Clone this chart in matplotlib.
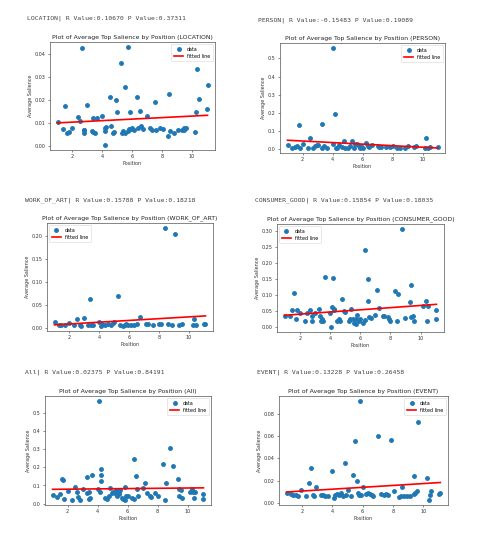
import numpy as np
import matplotlib
matplotlib.use("Agg")
import matplotlib.pyplot as plt

# Average top salience per position, one panel per entity type
categories = ["LOCATION", "PERSON", "WORK_OF_ART", "CONSUMER_GOOD", "All", "EVENT"]
r_values = ["0.10670", "-0.15483", "0.15788", "0.15854", "0.02375", "0.13228"]
p_values = ["0.37311", "0.19089", "0.18218", "0.18035", "0.84191", "0.26458"]

# fitted line (intercept, slope)
intercepts = [0.00967, 0.0513, 0.00588, 0.0336, 0.0782, 0.00906]
slopes = [0.00033, -0.0043, 0.00192, 0.0034, 0.0008, 0.00084]

location_pts = [
    (1.0, 0.0104), (1.35, 0.0072), (1.5, 0.0173), (1.65, 0.0058), (1.75, 0.0062),
    (2.0, 0.0077), (2.35, 0.0126), (2.5, 0.0107), (2.65, 0.0429), (2.75, 0.0069),
    (2.75, 0.0058), (2.8, 0.0070), (3.0, 0.0179), (3.3, 0.0065), (3.35, 0.0121),
    (3.4, 0.0059), (3.5, 0.0058), (3.65, 0.0121), (4.0, 0.0128), (4.15, 0.0003),
    (4.15, 0.0077), (4.2, 0.0066), (4.25, 0.0082), (4.5, 0.0215), (4.6, 0.0085),
    (4.75, 0.0056), (4.8, 0.0060), (4.95, 0.0198), (5.0, 0.0146), (5.25, 0.0360),
    (5.3, 0.0056), (5.4, 0.0065), (5.5, 0.0256), (5.55, 0.0056), (5.7, 0.0432),
    (5.7, 0.0064), (5.8, 0.0074), (5.85, 0.0146), (5.9, 0.0074), (6.0, 0.0077),
    (6.15, 0.0068), (6.3, 0.0211), (6.4, 0.0078), (6.55, 0.0154), (6.6, 0.0088),
    (6.7, 0.0074), (7.0, 0.0128), (7.2, 0.0079), (7.35, 0.0070), (7.5, 0.0192),
    (7.6, 0.0070), (7.9, 0.0078), (8.05, 0.0075), (8.4, 0.0043), (8.5, 0.0227),
    (8.55, 0.0066), (8.8, 0.0055), (9.05, 0.0069), (9.35, 0.0068), (9.45, 0.0070),
    (9.5, 0.0078), (9.6, 0.0077), (10.2, 0.0060), (10.3, 0.0146), (10.35, 0.0336),
    (10.45, 0.0205), (11.0, 0.0160), (11.05, 0.0265),
]

person_pts = [
    (1.0, 0.020), (1.3, 0.006), (1.5, 0.010), (1.65, 0.015), (1.75, 0.130),
    (1.8, 0.006), (2.0, 0.028), (2.35, 0.004), (2.5, 0.058), (2.7, 0.006),
    (2.8, 0.013), (2.95, 0.020), (3.05, 0.020), (3.3, 0.136), (3.3, 0.006),
    (3.45, 0.017), (3.6, 0.006), (4.05, 0.558), (4.05, 0.025), (4.15, 0.194),
    (4.2, 0.006), (4.3, 0.006), (4.45, 0.020), (4.6, 0.010), (4.75, 0.042),
    (4.85, 0.006), (5.0, 0.006), (5.15, 0.013), (5.3, 0.043), (5.4, 0.006),
    (5.5, 0.025), (5.6, 0.028), (5.75, 0.013), (5.8, 0.006), (5.9, 0.017),
    (6.0, 0.006), (6.25, 0.030), (6.35, 0.013), (6.45, 0.010), (6.6, 0.020),
    (7.0, 0.013), (7.1, 0.010), (7.25, 0.010), (7.55, 0.010), (7.85, 0.010),
    (8.0, 0.017), (8.3, 0.006), (8.5, 0.006), (8.8, 0.006), (9.0, 0.015),
    (9.4, 0.010), (9.55, 0.013), (10.15, 0.006), (10.25, 0.057), (10.35, 0.006),
    (10.5, 0.010), (11.0, 0.010),
]

work_of_art_pts = [
    (1.0, 0.0130), (1.3, 0.0072), (1.45, 0.0072), (1.7, 0.0072), (2.0, 0.0116),
    (2.3, 0.0072), (2.5, 0.0203), (2.7, 0.0072), (2.8, 0.0058), (3.0, 0.0225),
    (3.25, 0.0072), (3.35, 0.0645), (3.45, 0.0072), (3.6, 0.0072), (4.0, 0.0145),
    (4.1, 0.0051), (4.2, 0.0094), (4.4, 0.0072), (4.55, 0.0094), (4.75, 0.0072),
    (4.9, 0.0116), (5.0, 0.0130), (5.25, 0.0696), (5.4, 0.0072), (5.55, 0.0051),
    (5.7, 0.0072), (5.8, 0.0094), (5.9, 0.0072), (6.1, 0.0072), (6.3, 0.0072),
    (6.5, 0.0094), (6.7, 0.0239), (7.1, 0.0094), (7.25, 0.0094), (7.6, 0.0072),
    (8.0, 0.0094), (8.1, 0.0094), (8.4, 0.2180), (8.6, 0.0094), (8.85, 0.0072),
    (9.05, 0.2050), (9.35, 0.0072), (9.55, 0.0094), (10.25, 0.0072), (10.35, 0.0210),
    (10.5, 0.0072), (11.0, 0.0094), (11.1, 0.0094),
]

consumer_good_pts = [
    (1.0, 0.036), (1.35, 0.035), (1.5, 0.052), (1.65, 0.107), (1.75, 0.025),
    (1.8, 0.052), (2.0, 0.043), (2.35, 0.020), (2.5, 0.045), (2.65, 0.054),
    (2.8, 0.034), (2.8, 0.020), (3.0, 0.045), (3.25, 0.057), (3.35, 0.036),
    (3.4, 0.020), (3.45, 0.024), (3.55, 0.020), (3.7, 0.157), (4.0, 0.043),
    (4.1, 0.000), (4.15, 0.064), (4.2, 0.155), (4.25, 0.057), (4.3, 0.054),
    (4.5, 0.020), (4.6, 0.025), (4.7, 0.020), (4.8, 0.087), (4.9, 0.051),
    (5.0, 0.047), (5.25, 0.020), (5.35, 0.024), (5.4, 0.057), (5.5, 0.025),
    (5.6, 0.012), (5.7, 0.025), (5.75, 0.009), (5.8, 0.038), (5.9, 0.020),
    (6.0, 0.025), (6.2, 0.014), (6.3, 0.023), (6.35, 0.242), (6.5, 0.149),
    (6.55, 0.083), (6.6, 0.031), (6.7, 0.028), (7.0, 0.038), (7.15, 0.116),
    (7.25, 0.059), (7.5, 0.036), (7.6, 0.036), (7.85, 0.033), (7.9, 0.025),
    (8.0, 0.020), (8.3, 0.113), (8.45, 0.020), (8.5, 0.102), (8.75, 0.307),
    (9.0, 0.028), (9.3, 0.078), (9.35, 0.131), (9.4, 0.031), (9.5, 0.035),
    (9.55, 0.020), (10.15, 0.067), (10.35, 0.082), (10.4, 0.020), (10.5, 0.067),
    (11.0, 0.052), (11.05, 0.025),
]

all_pts = [
    (1.0, 0.050), (1.3, 0.035), (1.5, 0.053), (1.66, 0.136), (1.72, 0.130),
    (1.75, 0.024), (2.0, 0.070), (2.3, 0.020), (2.5, 0.094), (2.6, 0.066),
    (2.72, 0.035), (2.8, 0.020), (3.0, 0.080), (3.3, 0.144), (3.3, 0.057),
    (3.4, 0.066), (3.4, 0.024), (3.5, 0.030), (3.65, 0.157), (4.0, 0.080),
    (4.1, 0.565), (4.15, 0.066), (4.2, 0.190), (4.2, 0.158), (4.22, 0.127),
    (4.5, 0.033), (4.6, 0.026), (4.75, 0.040), (4.85, 0.088), (4.95, 0.057),
    (5.05, 0.066), (5.2, 0.075), (5.25, 0.052), (5.3, 0.040), (5.4, 0.066),
    (5.45, 0.052), (5.5, 0.075), (5.6, 0.033), (5.7, 0.024), (5.8, 0.092),
    (5.85, 0.020), (5.9, 0.040), (6.0, 0.044), (6.3, 0.030), (6.4, 0.024),
    (6.45, 0.243), (6.55, 0.150), (6.6, 0.080), (6.7, 0.040), (7.0, 0.088),
    (7.15, 0.115), (7.3, 0.057), (7.5, 0.040), (7.55, 0.037), (7.85, 0.057),
    (8.0, 0.040), (8.35, 0.218), (8.5, 0.022), (8.55, 0.114), (8.8, 0.306),
    (9.0, 0.205), (9.35, 0.133), (9.4, 0.080), (9.45, 0.044), (9.55, 0.074),
    (9.6, 0.033), (10.15, 0.066), (10.3, 0.080), (10.35, 0.066), (10.4, 0.033),
    (10.5, 0.066), (11.0, 0.052), (11.05, 0.026),
]

event_pts = [
    (1.0, 0.0093), (1.29, 0.0078), (1.44, 0.0075), (1.6, 0.0072), (1.73, 0.0063),
    (1.96, 0.0117), (2.29, 0.0063), (2.49, 0.0177), (2.62, 0.0313), (2.73, 0.0072),
    (2.8, 0.0063), (2.96, 0.0141), (3.24, 0.0069), (3.38, 0.0072), (3.51, 0.0066),
    (3.69, 0.0063), (4.0, 0.0286), (4.11, 0.0048), (4.18, 0.0072), (4.29, 0.0078),
    (4.44, 0.0072), (4.6, 0.0093), (4.73, 0.0066), (4.82, 0.0361), (4.91, 0.0072),
    (5.02, 0.0114), (5.2, 0.0066), (5.36, 0.0253), (5.49, 0.0560), (5.6, 0.0199),
    (5.69, 0.0093), (5.78, 0.0072), (5.82, 0.0914), (5.89, 0.0069), (6.02, 0.0141),
    (6.22, 0.0081), (6.38, 0.0087), (6.49, 0.0084), (6.62, 0.0072), (6.71, 0.0063),
    (7.02, 0.0598), (7.22, 0.0078), (7.38, 0.0072), (7.56, 0.0078), (7.64, 0.0069),
    (7.89, 0.0562), (8.07, 0.0105), (8.36, 0.0051), (8.49, 0.0066), (8.56, 0.0144),
    (8.73, 0.0063), (8.93, 0.0063), (9.11, 0.0063), (9.38, 0.0081), (9.4, 0.0244),
    (9.47, 0.0087), (9.56, 0.0111), (9.62, 0.0725), (10.22, 0.0226), (10.38, 0.0027),
    (10.44, 0.0069), (10.49, 0.0111), (11.0, 0.0081), (11.11, 0.0093),
]

panel_points = [location_pts, person_pts, work_of_art_pts,
                consumer_good_pts, all_pts, event_pts]
legend_locs = ["upper right", "upper right", "upper left",
               "upper left", "upper right", "upper right"]

# axes boxes in figure pixels: left, top, right, bottom
W, H = 500, 552
boxes = [(50, 42, 215, 150), (280, 43, 445, 153),
         (47, 223, 213, 331), (277, 224, 444, 332),
         (45, 396, 211, 505), (279, 396, 448, 505)]
headers_xy = [(27, 18), (258, 20), (25, 200), (255, 200), (25, 372), (257, 372)]

fig = plt.figure(figsize=(W / 100, H / 100), dpi=100)

for i, name in enumerate(categories):
    l, t, r, b = boxes[i]
    ax = fig.add_axes([l / W, 1 - b / H, (r - l) / W, (b - t) / H])
    x, y = map(np.array, zip(*panel_points[i]))

    ax.plot(x, y, "o", color="#1f77b4", markersize=2.5, label="data")
    xs = np.sort(x)
    ax.plot(xs, intercepts[i] + slopes[i] * xs, "r", lw=1.2, label="fitted line")

    ax.set_title("Plot of Average Top Salience by Position (%s)" % name,
                 fontsize=4.4, pad=2.5, color="#222222")
    ax.set_xlabel("Position", fontsize=3.5, labelpad=1.2, color="#333333")
    ax.set_ylabel("Average Salience", fontsize=3.5, labelpad=1.5, color="#333333")
    ax.tick_params(labelsize=3.5, length=1.6, width=0.4, pad=1.4, colors="#333333")
    for s in ax.spines.values():
        s.set_linewidth(0.5)
        s.set_color("#555555")
    leg = ax.legend(loc=legend_locs[i], fontsize=3.4, handlelength=2.0,
                    borderpad=0.5, labelspacing=0.5, handletextpad=0.8,
                    borderaxespad=0.5)
    leg.get_frame().set_linewidth(0.4)

    hx, hy = headers_xy[i]
    fig.text(hx / W, 1 - hy / H,
             "%s| R Value:%s P Value:%s" % (name, r_values[i], p_values[i]),
             family="DejaVu Sans Mono", fontsize=4.6, color="#444444",
             va="center", ha="left")

fig.savefig("out.png", dpi=100)
